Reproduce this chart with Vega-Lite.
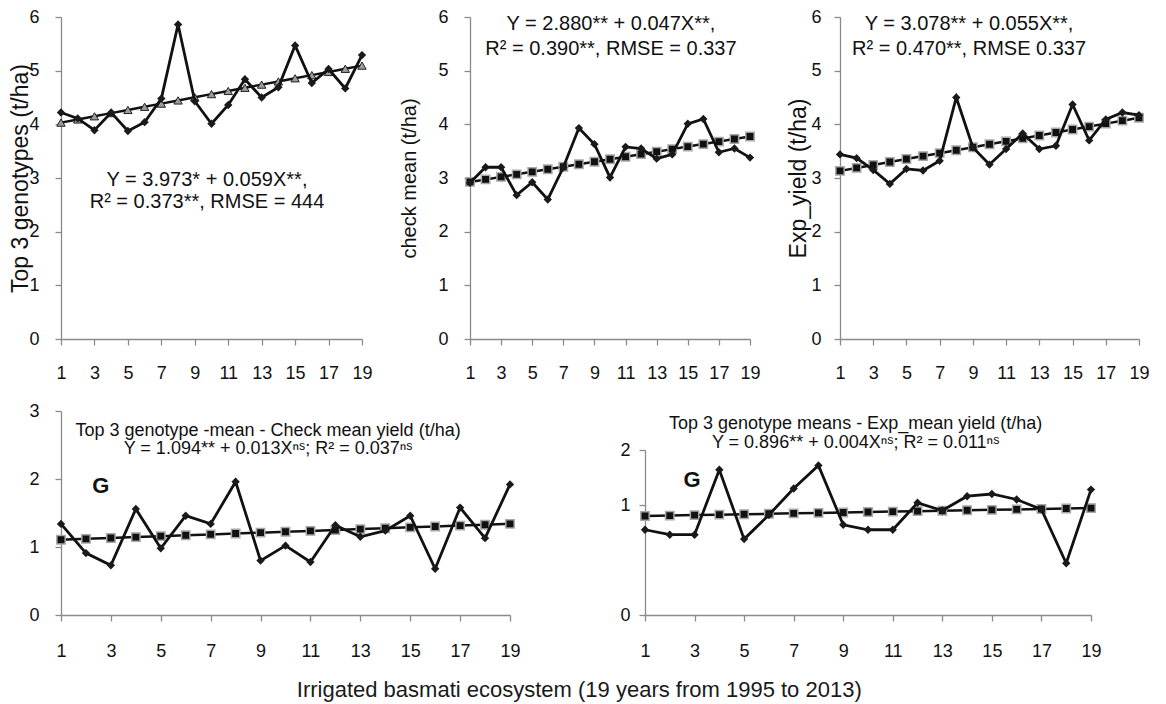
{
  "$schema": "https://vega.github.io/schema/vega-lite/v6.json",
  "padding": {"left": 9, "top": 8, "right": 10, "bottom": 8},
  "background": "white",
  "spacing": 20,
  "title": {
    "text": "Irrigated basmati ecosystem (19 years from 1995 to 2013)",
    "orient": "bottom",
    "anchor": "middle",
    "fontSize": 22,
    "fontWeight": "normal",
    "color": "#1a1a1a",
    "offset": 20
  },
  "datasets": {
    "top3": [
      {"year": 1, "observed": 4.22, "trend": 4.032},
      {"year": 2, "observed": 4.11, "trend": 4.091},
      {"year": 3, "observed": 3.89, "trend": 4.150},
      {"year": 4, "observed": 4.22, "trend": 4.209},
      {"year": 5, "observed": 3.875, "trend": 4.268},
      {"year": 6, "observed": 4.04, "trend": 4.327},
      {"year": 7, "observed": 4.48, "trend": 4.386},
      {"year": 8, "observed": 5.86, "trend": 4.445},
      {"year": 9, "observed": 4.43, "trend": 4.504},
      {"year": 10, "observed": 4.01, "trend": 4.563},
      {"year": 11, "observed": 4.36, "trend": 4.622},
      {"year": 12, "observed": 4.84, "trend": 4.681},
      {"year": 13, "observed": 4.5, "trend": 4.740},
      {"year": 14, "observed": 4.69, "trend": 4.799},
      {"year": 15, "observed": 5.47, "trend": 4.858},
      {"year": 16, "observed": 4.77, "trend": 4.917},
      {"year": 17, "observed": 5.03, "trend": 4.976},
      {"year": 18, "observed": 4.67, "trend": 5.035},
      {"year": 19, "observed": 5.29, "trend": 5.094}
    ],
    "check": [
      {"year": 1, "observed": 2.91, "trend": 2.927},
      {"year": 2, "observed": 3.2, "trend": 2.974},
      {"year": 3, "observed": 3.2, "trend": 3.021},
      {"year": 4, "observed": 2.68, "trend": 3.068},
      {"year": 5, "observed": 2.92, "trend": 3.115},
      {"year": 6, "observed": 2.6, "trend": 3.162},
      {"year": 7, "observed": 3.2, "trend": 3.209},
      {"year": 8, "observed": 3.93, "trend": 3.256},
      {"year": 9, "observed": 3.63, "trend": 3.303},
      {"year": 10, "observed": 3.01, "trend": 3.350},
      {"year": 11, "observed": 3.58, "trend": 3.397},
      {"year": 12, "observed": 3.55, "trend": 3.444},
      {"year": 13, "observed": 3.36, "trend": 3.491},
      {"year": 14, "observed": 3.44, "trend": 3.538},
      {"year": 15, "observed": 4.01, "trend": 3.585},
      {"year": 16, "observed": 4.1, "trend": 3.632},
      {"year": 17, "observed": 3.48, "trend": 3.679},
      {"year": 18, "observed": 3.55, "trend": 3.726},
      {"year": 19, "observed": 3.38, "trend": 3.773}
    ],
    "exp": [
      {"year": 1, "observed": 3.44, "trend": 3.133},
      {"year": 2, "observed": 3.37, "trend": 3.188},
      {"year": 3, "observed": 3.15, "trend": 3.243},
      {"year": 4, "observed": 2.89, "trend": 3.298},
      {"year": 5, "observed": 3.17, "trend": 3.353},
      {"year": 6, "observed": 3.14, "trend": 3.408},
      {"year": 7, "observed": 3.32, "trend": 3.463},
      {"year": 8, "observed": 4.5, "trend": 3.518},
      {"year": 9, "observed": 3.57, "trend": 3.573},
      {"year": 10, "observed": 3.25, "trend": 3.628},
      {"year": 11, "observed": 3.54, "trend": 3.683},
      {"year": 12, "observed": 3.83, "trend": 3.738},
      {"year": 13, "observed": 3.54, "trend": 3.793},
      {"year": 14, "observed": 3.6, "trend": 3.848},
      {"year": 15, "observed": 4.37, "trend": 3.903},
      {"year": 16, "observed": 3.7, "trend": 3.958},
      {"year": 17, "observed": 4.09, "trend": 4.013},
      {"year": 18, "observed": 4.22, "trend": 4.068},
      {"year": 19, "observed": 4.17, "trend": 4.123}
    ],
    "gapCheck": [
      {"year": 1, "observed": 1.34, "trend": 1.107},
      {"year": 2, "observed": 0.91, "trend": 1.120},
      {"year": 3, "observed": 0.73, "trend": 1.133},
      {"year": 4, "observed": 1.56, "trend": 1.146},
      {"year": 5, "observed": 0.98, "trend": 1.159},
      {"year": 6, "observed": 1.46, "trend": 1.172},
      {"year": 7, "observed": 1.34, "trend": 1.185},
      {"year": 8, "observed": 1.96, "trend": 1.198},
      {"year": 9, "observed": 0.8, "trend": 1.211},
      {"year": 10, "observed": 1.02, "trend": 1.224},
      {"year": 11, "observed": 0.78, "trend": 1.237},
      {"year": 12, "observed": 1.32, "trend": 1.250},
      {"year": 13, "observed": 1.15, "trend": 1.263},
      {"year": 14, "observed": 1.24, "trend": 1.276},
      {"year": 15, "observed": 1.46, "trend": 1.289},
      {"year": 16, "observed": 0.68, "trend": 1.302},
      {"year": 17, "observed": 1.58, "trend": 1.315},
      {"year": 18, "observed": 1.13, "trend": 1.328},
      {"year": 19, "observed": 1.92, "trend": 1.341}
    ],
    "gapExp": [
      {"year": 1, "observed": 0.775, "trend": 0.900},
      {"year": 2, "observed": 0.73, "trend": 0.904},
      {"year": 3, "observed": 0.73, "trend": 0.908},
      {"year": 4, "observed": 1.32, "trend": 0.912},
      {"year": 5, "observed": 0.69, "trend": 0.916},
      {"year": 6, "observed": 0.91, "trend": 0.920},
      {"year": 7, "observed": 1.15, "trend": 0.924},
      {"year": 8, "observed": 1.36, "trend": 0.928},
      {"year": 9, "observed": 0.82, "trend": 0.932},
      {"year": 10, "observed": 0.775, "trend": 0.936},
      {"year": 11, "observed": 0.775, "trend": 0.940},
      {"year": 12, "observed": 1.02, "trend": 0.944},
      {"year": 13, "observed": 0.95, "trend": 0.948},
      {"year": 14, "observed": 1.08, "trend": 0.952},
      {"year": 15, "observed": 1.1, "trend": 0.956},
      {"year": 16, "observed": 1.05, "trend": 0.960},
      {"year": 17, "observed": 0.96, "trend": 0.964},
      {"year": 18, "observed": 0.47, "trend": 0.968},
      {"year": 19, "observed": 1.14, "trend": 0.972}
    ]
  },
  "vconcat": [
    {
      "spacing": 26,
      "hconcat": [
        {
          "width": 301,
          "height": 322,
          "layer": [
            {"data": {"name": "top3"},
             "mark": {"type": "line", "color": "#111", "strokeWidth": 2.5},
             "encoding": {
               "x": {"field": "year", "type": "quantitative", "scale": {"domain": [1, 19], "nice": false},
                     "axis": {"values": [1, 3, 5, 7, 9, 11, 13, 15, 17, 19], "tickCount": 19, "format": "d", "title": null, "labelPadding": 19}},
               "y": {"field": "trend", "type": "quantitative", "scale": {"domain": [0, 6], "nice": false},
                     "axis": {"values": [0, 1, 2, 3, 4, 5, 6], "tickCount": 12, "format": "d", "title": "Top 3 genotypes (t/ha)", "titleFontSize": 23, "titleX": -28.5}}}},
            {"data": {"name": "top3"},
             "mark": {"type": "point", "shape": "triangle-up", "filled": true, "fill": "#9c9c9c", "stroke": "#222", "strokeWidth": 1, "size": 70, "opacity": 1},
             "encoding": {"x": {"field": "year", "type": "quantitative"}, "y": {"field": "trend", "type": "quantitative"}}},
            {"data": {"name": "top3"},
             "mark": {"type": "line", "color": "#111", "strokeWidth": 2.8},
             "encoding": {"x": {"field": "year", "type": "quantitative"}, "y": {"field": "observed", "type": "quantitative"}}},
            {"data": {"name": "top3"},
             "mark": {"type": "point", "shape": "diamond", "filled": true, "color": "#1a1a1a", "size": 70, "opacity": 1},
             "encoding": {"x": {"field": "year", "type": "quantitative"}, "y": {"field": "observed", "type": "quantitative"}}},
            {"data": {"values": [{}]},
             "mark": {"type": "text", "fontSize": 20, "lineHeight": 22, "baseline": "middle", "align": "center", "color": "#111",
                      "text": ["Y = 3.973* + 0.059X**,", "R² = 0.373**, RMSE = 444"]},
             "encoding": {"x": {"datum": 9.73, "type": "quantitative"}, "y": {"datum": 2.97, "type": "quantitative"}}}
          ]
        },
        {
          "width": 280,
          "height": 322,
          "layer": [
            {"data": {"name": "check"},
             "mark": {"type": "line", "color": "#111", "strokeWidth": 2.5},
             "encoding": {
               "x": {"field": "year", "type": "quantitative", "scale": {"domain": [1, 19], "nice": false},
                     "axis": {"values": [1, 3, 5, 7, 9, 11, 13, 15, 17, 19], "tickCount": 19, "format": "d", "title": null, "labelPadding": 19}},
               "y": {"field": "trend", "type": "quantitative", "scale": {"domain": [0, 6], "nice": false},
                     "axis": {"values": [0, 1, 2, 3, 4, 5, 6], "tickCount": 12, "format": "d", "title": "check mean (t/ha)", "titleX": -51}}}},
            {"data": {"name": "check"},
             "mark": {"type": "point", "shape": "square", "filled": true, "fill": "#111", "stroke": "#a8a8a8", "strokeWidth": 1.5, "size": 70, "opacity": 1},
             "encoding": {"x": {"field": "year", "type": "quantitative"}, "y": {"field": "trend", "type": "quantitative"}}},
            {"data": {"name": "check"},
             "mark": {"type": "line", "color": "#111", "strokeWidth": 2.8},
             "encoding": {"x": {"field": "year", "type": "quantitative"}, "y": {"field": "observed", "type": "quantitative"}}},
            {"data": {"name": "check"},
             "mark": {"type": "point", "shape": "diamond", "filled": true, "color": "#1a1a1a", "size": 70, "opacity": 1},
             "encoding": {"x": {"field": "year", "type": "quantitative"}, "y": {"field": "observed", "type": "quantitative"}}},
            {"data": {"values": [{}]},
             "mark": {"type": "text", "fontSize": 20, "lineHeight": 25, "baseline": "middle", "align": "center", "color": "#111",
                      "text": ["Y = 2.880** + 0.047X**,", "R² = 0.390**, RMSE = 0.337"]},
             "encoding": {"x": {"datum": 10.06, "type": "quantitative"}, "y": {"datum": 5.87, "type": "quantitative"}}}
          ]
        },
        {
          "width": 299,
          "height": 322,
          "layer": [
            {"data": {"name": "exp"},
             "mark": {"type": "line", "color": "#111", "strokeWidth": 2.5},
             "encoding": {
               "x": {"field": "year", "type": "quantitative", "scale": {"domain": [1, 19], "nice": false},
                     "axis": {"values": [1, 3, 5, 7, 9, 11, 13, 15, 17, 19], "tickCount": 19, "format": "d", "title": null, "labelPadding": 19}},
               "y": {"field": "trend", "type": "quantitative", "scale": {"domain": [0, 6], "nice": false},
                     "axis": {"values": [0, 1, 2, 3, 4, 5, 6], "tickCount": 12, "format": "d", "title": "Exp_yield (t/ha)", "titleFontSize": 23, "titleX": -30, "labelPadding": 13}}}},
            {"data": {"name": "exp"},
             "mark": {"type": "point", "shape": "square", "filled": true, "fill": "#111", "stroke": "#a8a8a8", "strokeWidth": 1.5, "size": 70, "opacity": 1},
             "encoding": {"x": {"field": "year", "type": "quantitative"}, "y": {"field": "trend", "type": "quantitative"}}},
            {"data": {"name": "exp"},
             "mark": {"type": "line", "color": "#111", "strokeWidth": 2.8},
             "encoding": {"x": {"field": "year", "type": "quantitative"}, "y": {"field": "observed", "type": "quantitative"}}},
            {"data": {"name": "exp"},
             "mark": {"type": "point", "shape": "diamond", "filled": true, "color": "#1a1a1a", "size": 70, "opacity": 1},
             "encoding": {"x": {"field": "year", "type": "quantitative"}, "y": {"field": "observed", "type": "quantitative"}}},
            {"data": {"values": [{}]},
             "mark": {"type": "text", "fontSize": 20, "lineHeight": 25, "baseline": "middle", "align": "center", "color": "#111",
                      "text": ["Y = 3.078** + 0.055X**,", "R² = 0.470**, RMSE 0.337"]},
             "encoding": {"x": {"datum": 8.77, "type": "quantitative"}, "y": {"datum": 5.87, "type": "quantitative"}}}
          ]
        }
      ]
    },
    {
      "spacing": 98,
      "hconcat": [
        {
          "width": 449,
          "height": 204,
          "layer": [
            {"data": {"name": "gapCheck"},
             "mark": {"type": "line", "color": "#111", "strokeWidth": 2.5},
             "encoding": {
               "x": {"field": "year", "type": "quantitative", "scale": {"domain": [1, 19], "nice": false},
                     "axis": {"values": [1, 3, 5, 7, 9, 11, 13, 15, 17, 19], "tickCount": 19, "format": "d", "title": null, "labelPadding": 21}},
               "y": {"field": "trend", "type": "quantitative", "scale": {"domain": [0, 3], "nice": false},
                     "axis": {"values": [0, 1, 2, 3], "tickCount": 6, "format": "d", "title": null}}}},
            {"data": {"name": "gapCheck"},
             "mark": {"type": "point", "shape": "square", "filled": true, "fill": "#111", "stroke": "#a8a8a8", "strokeWidth": 1.5, "size": 70, "opacity": 1},
             "encoding": {"x": {"field": "year", "type": "quantitative"}, "y": {"field": "trend", "type": "quantitative"}}},
            {"data": {"name": "gapCheck"},
             "mark": {"type": "line", "color": "#111", "strokeWidth": 2.8},
             "encoding": {"x": {"field": "year", "type": "quantitative"}, "y": {"field": "observed", "type": "quantitative"}}},
            {"data": {"name": "gapCheck"},
             "mark": {"type": "point", "shape": "diamond", "filled": true, "color": "#1a1a1a", "size": 70, "opacity": 1},
             "encoding": {"x": {"field": "year", "type": "quantitative"}, "y": {"field": "observed", "type": "quantitative"}}},
            {"data": {"values": [{}]},
             "mark": {"type": "text", "fontSize": 18, "lineHeight": 18, "baseline": "middle", "align": "center", "color": "#111",
                      "text": ["Top 3 genotype -mean - Check mean yield (t/ha)", "Y = 1.094** + 0.013Xⁿˢ; R² = 0.037ⁿˢ"]},
             "encoding": {"x": {"datum": 9.3, "type": "quantitative"}, "y": {"datum": 2.7, "type": "quantitative"}}},
            {"data": {"values": [{}]},
             "mark": {"type": "text", "fontSize": 22, "fontWeight": "bold", "baseline": "middle", "align": "center", "color": "#111", "text": "G"},
             "encoding": {"x": {"datum": 2.6, "type": "quantitative"}, "y": {"datum": 1.9, "type": "quantitative"}}}
          ]
        },
        {
          "spacing": 0,
          "vconcat": [
            {
              "width": 446,
              "height": 4,
              "data": {"values": []},
              "mark": "point",
              "encoding": {}
            },
            {
              "width": 446,
              "height": 165,
              "layer": [
                {"data": {"name": "gapExp"},
                 "mark": {"type": "line", "color": "#111", "strokeWidth": 2.5},
                 "encoding": {
                   "x": {"field": "year", "type": "quantitative", "scale": {"domain": [1, 19], "nice": false},
                         "axis": {"values": [1, 3, 5, 7, 9, 11, 13, 15, 17, 19], "tickCount": 19, "format": "d", "title": null, "labelPadding": 21}},
                   "y": {"field": "trend", "type": "quantitative", "scale": {"domain": [0, 1.5], "nice": false},
                         "axis": {"values": [0, 1, 1.5], "tickCount": 6, "format": ".0f", "title": null, "labelPadding": 9}}}},
                {"data": {"name": "gapExp"},
                 "mark": {"type": "point", "shape": "square", "filled": true, "fill": "#111", "stroke": "#a8a8a8", "strokeWidth": 1.5, "size": 70, "opacity": 1},
                 "encoding": {"x": {"field": "year", "type": "quantitative"}, "y": {"field": "trend", "type": "quantitative"}}},
                {"data": {"name": "gapExp"},
                 "mark": {"type": "line", "color": "#111", "strokeWidth": 2.8},
                 "encoding": {"x": {"field": "year", "type": "quantitative"}, "y": {"field": "observed", "type": "quantitative"}}},
                {"data": {"name": "gapExp"},
                 "mark": {"type": "point", "shape": "diamond", "filled": true, "color": "#1a1a1a", "size": 70, "opacity": 1},
                 "encoding": {"x": {"field": "year", "type": "quantitative"}, "y": {"field": "observed", "type": "quantitative"}}},
                {"data": {"values": [{}]},
                 "mark": {"type": "text", "fontSize": 18, "lineHeight": 19, "baseline": "middle", "align": "center", "color": "#111",
                          "text": ["Top 3 genotype means - Exp_mean yield (t/ha)", "Y = 0.896** + 0.004Xⁿˢ; R² = 0.011ⁿˢ"]},
                 "encoding": {"x": {"datum": 9.5, "type": "quantitative"}, "y": {"datum": 1.736, "type": "quantitative"}}},
                {"data": {"values": [{}]},
                 "mark": {"type": "text", "fontSize": 22, "fontWeight": "bold", "baseline": "middle", "align": "center", "color": "#111", "text": "G"},
                 "encoding": {"x": {"datum": 2.9, "type": "quantitative"}, "y": {"datum": 1.23, "type": "quantitative"}}}
              ]
            }
          ]
        }
      ]
    }
  ],
  "config": {
    "font": "Liberation Sans",
    "view": {"stroke": null},
    "axis": {
      "grid": false,
      "domainColor": "#8a8a8a",
      "domainWidth": 1.3,
      "tickColor": "#8a8a8a",
      "tickWidth": 1.3,
      "tickSize": 6,
      "labelFont": "Liberation Sans",
      "labelFontSize": 18,
      "labelColor": "#111",
      "labelPadding": 16,
      "labelFlush": false,
      "labelOverlap": false,
      "titleFont": "Liberation Sans",
      "titleFontSize": 20,
      "titleFontWeight": "normal",
      "titleColor": "#111"
    },
    "axisX": {"labelAngle": 0}
  }
}
